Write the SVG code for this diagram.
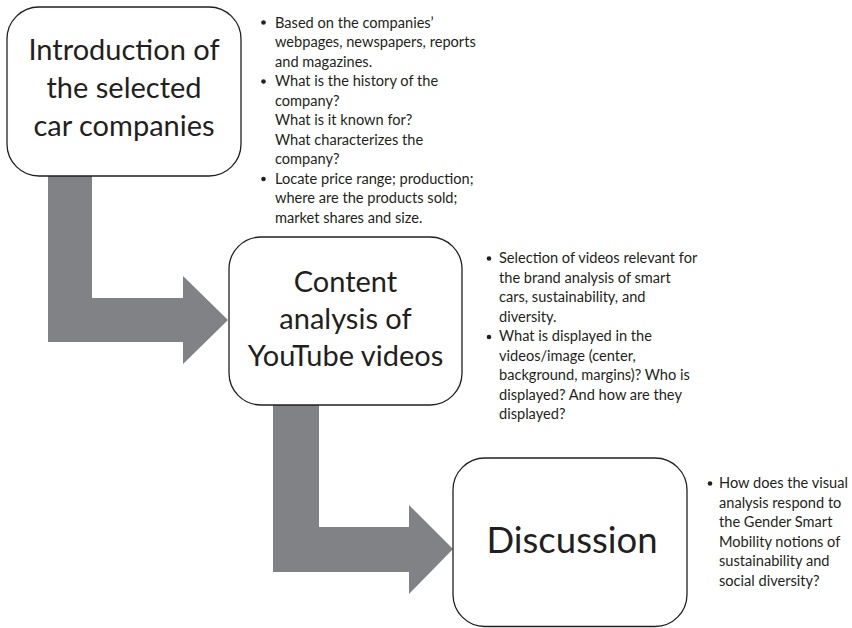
<svg xmlns="http://www.w3.org/2000/svg" width="852" height="628" viewBox="0 0 852 628">
<style>
.box{fill:#ffffff;stroke:#231f20;stroke-width:1.3}
.arrow{fill:#808285;stroke:none}
.title{font-family:Lato,"Liberation Sans",sans-serif;font-size:29px;fill:#231f20;text-anchor:middle}
.big{font-size:36.5px}
.note{font-family:Lato,"Liberation Sans",sans-serif;font-size:14.6px;fill:#231f20}
.dot{fill:#231f20}
</style>
<rect width="852" height="628" fill="#ffffff"/>
<g id="connectors">
<polygon class="arrow" points="48,170 92,170 92,298 183,298 183,276 228,320 183,364 183,342 48,342"/>
<polygon class="arrow" points="273,400 319,400 319,527 409,527 409,505 453,549 409,594 409,572 273,572"/>
</g>
<g id="node-intro">
<rect class="box" x="7" y="7" width="234" height="169" rx="32" ry="32"/>
<text class="title" x="124"><tspan x="124" y="60">Introduction of</tspan><tspan x="124" y="98">the selected</tspan><tspan x="124" y="136">car companies</tspan></text>
</g>
<g id="node-content">
<rect class="box" x="229" y="237" width="233" height="168" rx="32" ry="32"/>
<text class="title" x="345.5"><tspan x="345.5" y="292">Content</tspan><tspan x="345.5" y="329">analysis of</tspan><tspan x="345.5" y="366">YouTube videos</tspan></text>
</g>
<g id="node-discussion">
<rect class="box" x="453" y="458" width="234" height="168.5" rx="32" ry="32"/>
<text class="title big" x="572" y="553">Discussion</text>
</g>
<g id="notes-intro">
<circle class="dot" cx="263.5" cy="22.5" r="2.3"/>
<circle class="dot" cx="263.5" cy="81.5" r="2.3"/>
<circle class="dot" cx="263.5" cy="179" r="2.3"/>
<text class="note">
<tspan x="275" y="27.5">Based on the companies’</tspan>
<tspan x="275" y="47">webpages, newspapers, reports</tspan>
<tspan x="275" y="66.5">and magazines.</tspan>
<tspan x="275" y="86">What is the history of the</tspan>
<tspan x="275" y="105.5">company?</tspan>
<tspan x="275" y="125">What is it known for?</tspan>
<tspan x="275" y="144.5">What characterizes the</tspan>
<tspan x="275" y="164">company?</tspan>
<tspan x="275" y="183.5">Locate price range; production;</tspan>
<tspan x="275" y="203">where are the products sold;</tspan>
<tspan x="275" y="222.5">market shares and size.</tspan>
</text>
</g>
<g id="notes-content">
<circle class="dot" cx="489" cy="258.5" r="2.3"/>
<circle class="dot" cx="489" cy="337" r="2.3"/>
<text class="note">
<tspan x="499" y="263">Selection of videos relevant for</tspan>
<tspan x="499" y="282.5">the brand analysis of smart</tspan>
<tspan x="499" y="302">cars, sustainability, and</tspan>
<tspan x="499" y="321.5">diversity.</tspan>
<tspan x="499" y="341">What is displayed in the</tspan>
<tspan x="499" y="360.5">videos/image (center,</tspan>
<tspan x="499" y="380">background, margins)? Who is</tspan>
<tspan x="499" y="399.5">displayed? And how are they</tspan>
<tspan x="499" y="419">displayed?</tspan>
</text>
</g>
<g id="notes-discussion">
<circle class="dot" cx="710" cy="483.5" r="2.3"/>
<text class="note">
<tspan x="719" y="488">How does the visual</tspan>
<tspan x="719" y="507.5">analysis respond to</tspan>
<tspan x="719" y="527">the Gender Smart</tspan>
<tspan x="719" y="546.5">Mobility notions of</tspan>
<tspan x="719" y="566">sustainability and</tspan>
<tspan x="719" y="585.5">social diversity?</tspan>
</text>
</g>
</svg>
